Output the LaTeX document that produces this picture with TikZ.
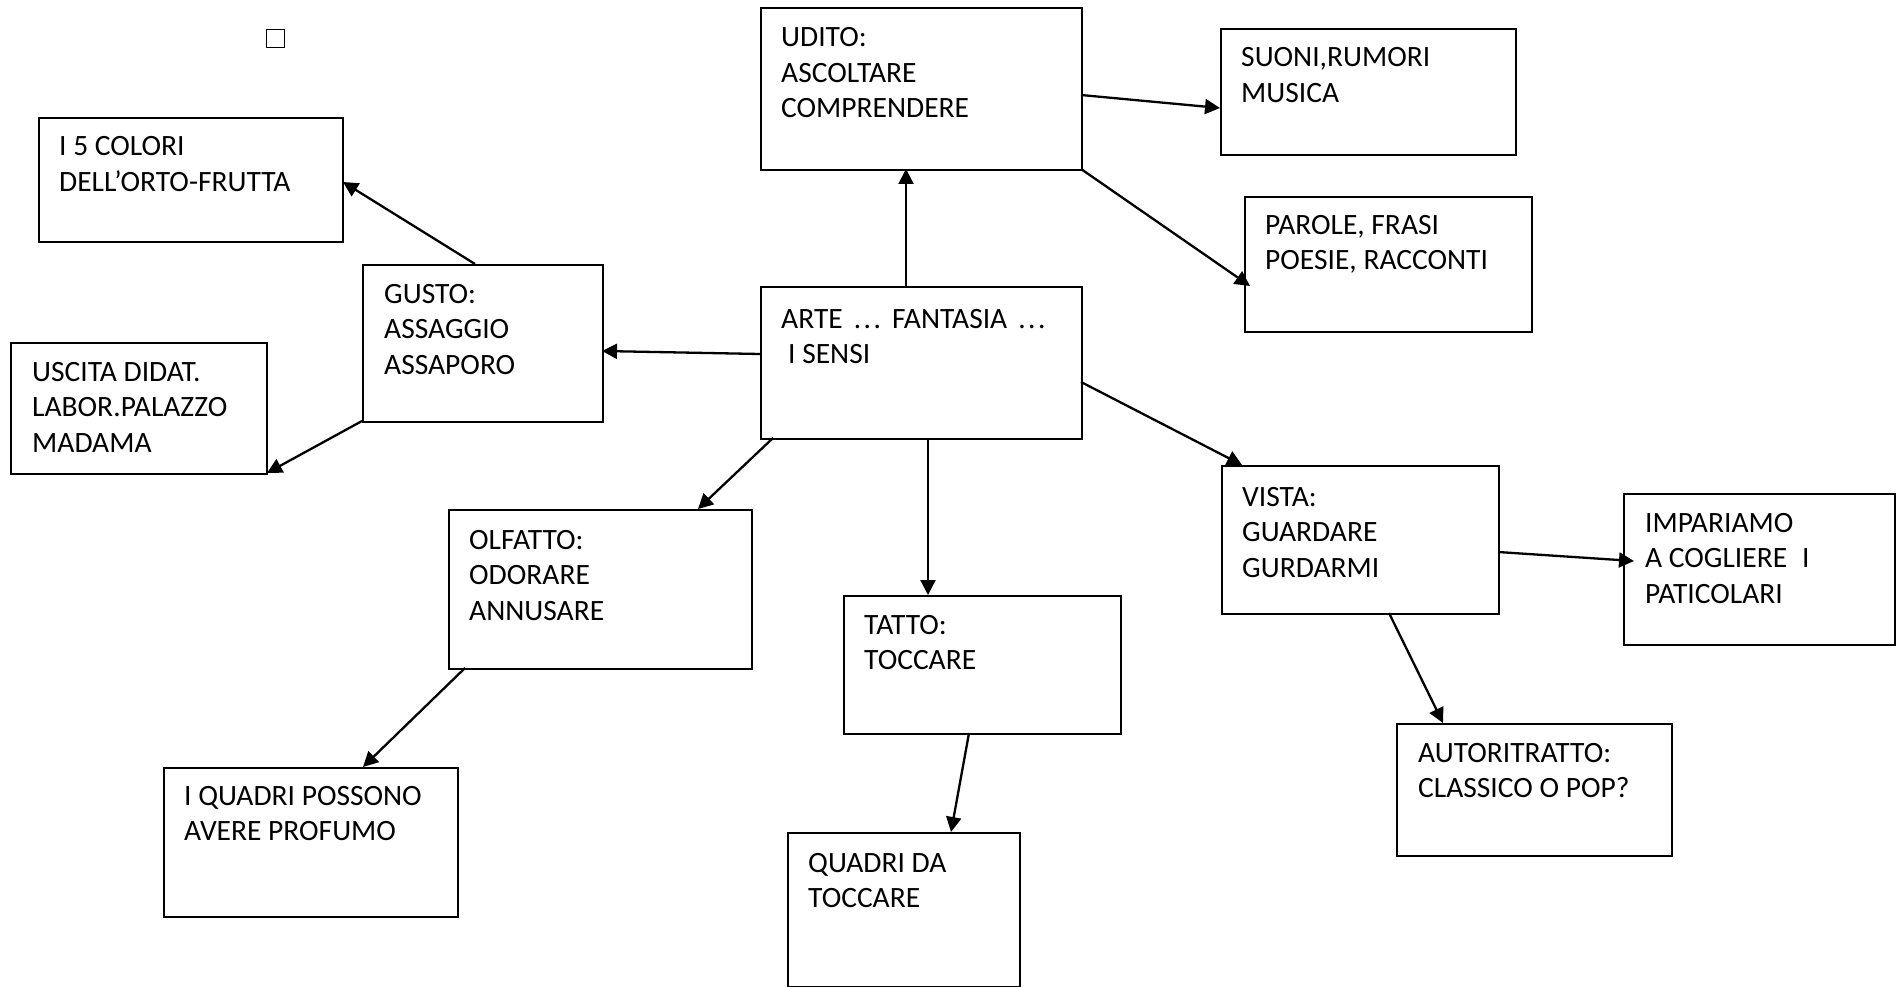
\documentclass[tikz,border=0pt]{standalone}
\usepackage{fontspec}
\setmainfont{Carlito}
\usetikzlibrary{arrows.meta,calc}
\newcommand{\lines}[1]{\begin{tabular}[t]{@{}l@{}}#1\end{tabular}}
\newcommand{\dotsx}{.\kern2.5pt.\kern2.5pt.}
\tikzset{
  box/.style={draw=black, line width=1.7pt, rectangle, anchor=north west, inner sep=0pt},
  txt/.style={anchor=base west, inner sep=0pt, font=\fontsize{29.5}{35.5}\selectfont},
  conn/.style={line width=2.3pt, -{Triangle[length=15pt,width=15pt]}},
}
\begin{document}
\begin{tikzpicture}[x=1pt,y=-1pt]
\useasboundingbox[fill=white] (0,0) rectangle (1903,987);
% small square
\node[draw=black, line width=1.3pt, anchor=north west, minimum width=18pt, minimum height=18pt, inner sep=0pt] (sq) at (266,29) {};
% boxes
\node[box, minimum width=304pt, minimum height=124pt] (i5) at (38,117) {};
\node[box, minimum width=240pt, minimum height=157pt] (gusto) at (362,264) {};
\node[box, minimum width=256pt, minimum height=131pt] (uscita) at (10,342) {};
\node[box, minimum width=321pt, minimum height=162pt] (udito) at (760,7) {};
\node[box, minimum width=321pt, minimum height=152pt] (arte) at (760,286) {};
\node[box, minimum width=295pt, minimum height=126pt] (suoni) at (1220,28) {};
\node[box, minimum width=287pt, minimum height=135pt] (parole) at (1244,196) {};
\node[box, minimum width=277pt, minimum height=148pt] (vista) at (1221,465) {};
\node[box, minimum width=271pt, minimum height=151pt] (impar) at (1623,493) {};
\node[box, minimum width=275pt, minimum height=132pt] (auto) at (1396,723) {};
\node[box, minimum width=303pt, minimum height=159pt] (olfatto) at (448,509) {};
\node[box, minimum width=294pt, minimum height=149pt] (quadri1) at (163,767) {};
\node[box, minimum width=277pt, minimum height=138pt] (tatto) at (843,595) {};
\node[box, minimum width=232pt, minimum height=154pt] (quadri2) at (787,832) {};
% texts
\node[txt] (i5T) at ($(i5.north west)+(21,39)$) {\lines{I 5 COLORI\\DELL’ORTO-FRUTTA}};
\node[txt] (gustoT) at ($(gusto.north west)+(22,39)$) {\lines{GUSTO:\\ASSAGGIO\\ASSAPORO}};
\node[txt] (uscitaT) at ($(uscita.north west)+(22,39)$) {\lines{USCITA DIDAT.\\LABOR.PALAZZO\\MADAMA}};
\node[txt] (uditoT) at ($(udito.north west)+(21,40)$) {\lines{UDITO:\\ASCOLTARE\\COMPRENDERE}};
\node[txt] (arteT) at ($(arte.north west)+(21,42)$) {\lines{ARTE\hspace{11pt}\dotsx\hspace{11pt}FANTASIA\hspace{11pt}\dotsx\\\hspace{7pt}I SENSI}};
\node[txt] (suoniT) at ($(suoni.north west)+(21,39)$) {\lines{SUONI,RUMORI\\MUSICA}};
\node[txt] (paroleT) at ($(parole.north west)+(21,38)$) {\lines{PAROLE, FRASI\\POESIE, RACCONTI}};
\node[txt] (vistaT) at ($(vista.north west)+(21,41)$) {\lines{VISTA:\\GUARDARE\\GURDARMI}};
\node[txt] (imparT) at ($(impar.north west)+(22,39)$) {\lines{IMPARIAMO\\A COGLIERE\hspace{15pt}I\\PATICOLARI}};
\node[txt] (autoT) at ($(auto.north west)+(22,39)$) {\lines{AUTORITRATTO:\\CLASSICO O POP?}};
\node[txt] (olfattoT) at ($(olfatto.north west)+(21,40)$) {\lines{OLFATTO:\\ODORARE\\ANNUSARE}};
\node[txt] (quadri1T) at ($(quadri1.north west)+(21,38)$) {\lines{I QUADRI POSSONO\\AVERE PROFUMO}};
\node[txt] (tattoT) at ($(tatto.north west)+(21,39)$) {\lines{TATTO:\\TOCCARE}};
\node[txt] (quadri2T) at ($(quadri2.north west)+(21,40)$) {\lines{QUADRI DA\\TOCCARE}};
% connectors
\draw[conn] ($(arte.north west)+(146,0)$) -- ($(udito.north west)+(146,162)$);
\draw[conn] ($(udito.north west)+(321,88)$) -- ($(suoni.north west)+(0,80)$);
\draw[conn] ($(udito.north west)+(321,162)$) -- ($(parole.north west)+(6,90)$);
\draw[conn] ($(arte.north west)+(0,68)$) -- ($(gusto.north west)+(240,87)$);
\draw[conn] ($(gusto.north west)+(113,0)$) -- ($(i5.north west)+(305,65)$);
\draw[conn] ($(gusto.north west)+(0,157)$) -- ($(uscita.north west)+(257,131)$);
\draw[conn] ($(arte.north west)+(13,152)$) -- ($(olfatto.north west)+(250,0)$);
\draw[conn] ($(olfatto.north west)+(17,159)$) -- ($(quadri1.north west)+(200,0)$);
\draw[conn] ($(arte.north west)+(168,152)$) -- ($(tatto.north west)+(85,0)$);
\draw[conn] ($(tatto.north west)+(126,138)$) -- ($(quadri2.north west)+(164,0)$);
\draw[conn] ($(arte.north west)+(321,96)$) -- ($(vista.north west)+(21,0)$);
\draw[conn] ($(vista.north west)+(277,87)$) -- ($(impar.north west)+(11,68)$);
\draw[conn] ($(vista.north west)+(168,148)$) -- ($(auto.north west)+(47,0)$);
\end{tikzpicture}
\end{document}
